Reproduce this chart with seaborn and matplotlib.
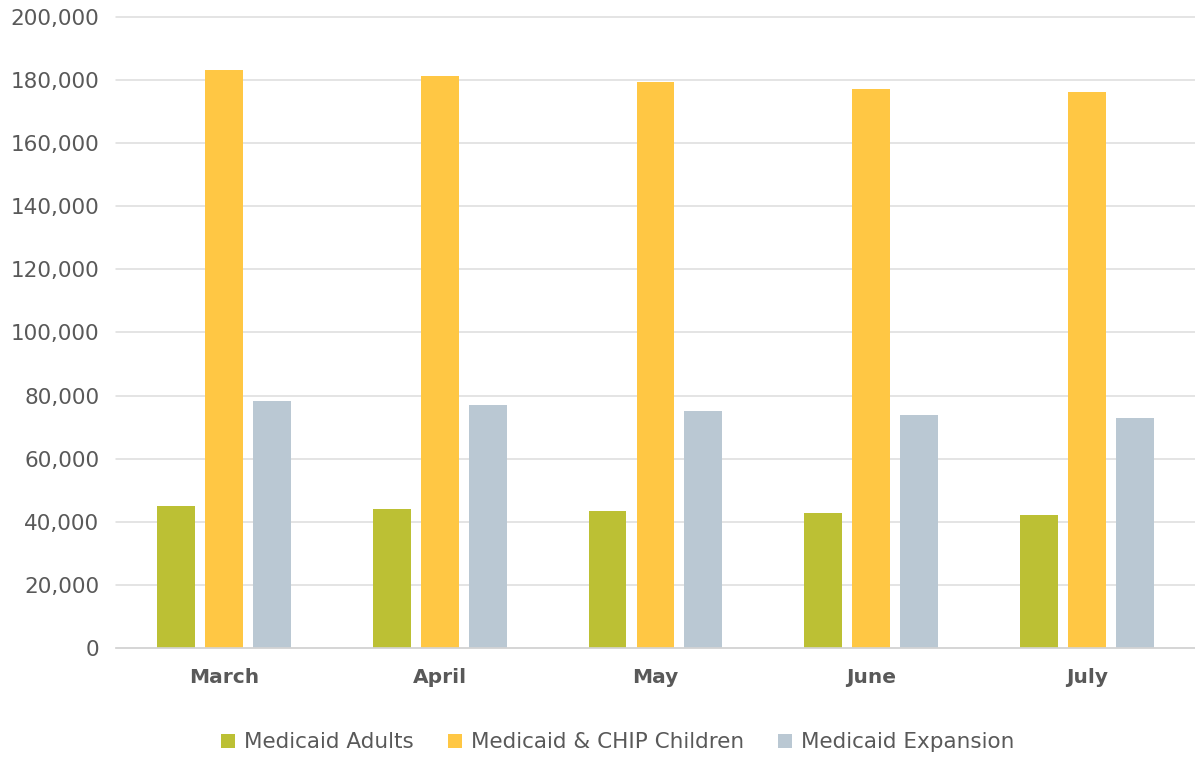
import matplotlib.pyplot as plt
import seaborn as sns
import pandas as pd
from matplotlib.ticker import FuncFormatter

months = ['March', 'April', 'May', 'June', 'July']
series_names = ['Medicaid Adults', 'Medicaid & CHIP Children', 'Medicaid Expansion']
adults = [45000, 44100, 43500, 42700, 42200]
children = [183000, 181300, 179400, 177100, 176100]
expansion = [78400, 76900, 75200, 73800, 72800]
colors = ['#BCC034', '#FFC744', '#BAC8D3']

# 长表格式，方便 seaborn 按 hue 分组
df = pd.DataFrame({
    'Month': months * 3,
    'Series': [s for s in series_names for _ in months],
    'Value': adults + children + expansion,
})

sns.set_theme(style='white')
plt.rcParams['font.family'] = ['DejaVu Sans']
text_color = '#595959'

fig = plt.figure(figsize=(11.95, 7.59), dpi=100)
ax = fig.add_axes([0.097, 0.146, 0.903, 0.832])

sns.barplot(
    data=df, x='Month', y='Value', hue='Series',
    order=months, hue_order=series_names,
    palette=colors, width=0.667, gap=0.21,
    edgecolor='none', linewidth=0, saturation=1, ax=ax,
)

ax.set_ylim(0, 200000)
ax.set_yticks(range(0, 200001, 20000))
ax.yaxis.set_major_formatter(FuncFormatter(lambda v, p: f'{int(v):,}'))
ax.grid(True, axis='y', color='#dcdcdc', linewidth=1.1)
for gl in ax.get_ygridlines():
    gl.set_clip_on(False)  # 顶部网格线不被裁掉
ax.set_axisbelow(True)
sns.despine(ax=ax, left=True, top=True, right=True)
ax.spines['bottom'].set_color('#d4d4d4')
ax.spines['bottom'].set_linewidth(1.2)

ax.set_xlabel('')
ax.set_ylabel('')
ax.tick_params(axis='y', length=0, pad=12, labelsize=15.5, labelcolor=text_color)
ax.tick_params(axis='x', length=0, pad=14, labelsize=14.5, labelcolor=text_color)
for lbl in ax.get_xticklabels():
    lbl.set_fontweight('semibold')

handles, labels = ax.get_legend_handles_labels()
ax.legend_.remove()
fig.legend(
    handles, labels, loc='center', bbox_to_anchor=(0.517, 0.022),
    ncol=3, frameon=False, fontsize=15.5, labelcolor=text_color,
    handlelength=0.65, handleheight=0.65, handletextpad=0.4, columnspacing=1.6,
)

plt.savefig('out.png', dpi=100, facecolor='white')
